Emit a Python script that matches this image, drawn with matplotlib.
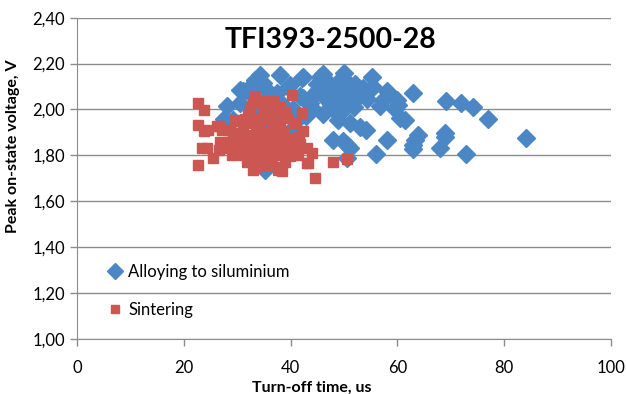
import matplotlib.pyplot as plt

plt.rcParams['font.family'] = ['Lato', 'DejaVu Sans']

# Alloying to siluminium: turn-off time (us), peak on-state voltage (V)
alloy_t = [84.0, 77.0, 74.1, 72.0, 69.1, 72.8, 68.9, 68.9, 68.0, 63.9,
           63.3, 62.9, 62.9, 62.9, 61.4, 60.5, 59.9, 60.1, 59.5, 58.0,
           57.3, 56.7, 58.1, 56.0, 55.2, 53.6, 54.3, 54.1, 50.0, 46.1,
           45.5, 42.3, 42.1, 38.0, 34.3, 33.6, 34.9, 33.3, 33.6, 35.5,
           31.8, 31.1, 30.5, 30.5, 28.0, 29.2, 33.0, 33.6, 35.2, 37.4,
           39.5, 39.9, 41.8, 37.4, 42.3, 44.9, 47.4, 49.3, 51.1, 52.4,
           53.6, 43.6, 46.8, 48.9, 51.1, 44.0, 46.0, 48.9, 51.1, 47.9,
           49.8, 50.5, 51.1, 50.5, 41.1, 40.5, 39.3, 47.0, 48.5, 50.5,
           52.0, 49.0, 50.0, 52.5, 45.0, 44.0, 47.5, 50.0, 51.8, 49.5,
           48.0, 37.0, 38.5, 36.0, 40.5, 42.8, 36.5, 55.5, 53.0, 27.5]
alloy_v = [1.875, 1.960, 2.009, 2.030, 2.038, 1.806, 1.898, 1.880, 1.833, 1.890,
           1.868, 1.846, 1.829, 2.073, 1.955, 1.964, 2.040, 2.020, 2.000, 2.079,
           2.042, 2.013, 1.865, 1.807, 2.141, 2.095, 2.047, 1.909, 2.160, 2.156,
           2.143, 2.143, 2.137, 2.151, 2.151, 2.115, 2.115, 2.130, 2.095, 2.086,
           2.086, 2.079, 2.086, 2.028, 2.013, 1.955, 2.000, 1.977, 1.737, 2.072,
           2.100, 2.108, 2.057, 2.035, 2.050, 2.079, 2.093, 2.079, 2.100, 2.071,
           2.079, 2.028, 2.042, 2.035, 2.042, 2.007, 1.981, 1.955, 1.942, 1.868,
           1.861, 1.846, 1.832, 1.790, 1.948, 1.919, 1.890, 2.120, 2.110, 2.120,
           2.110, 2.060, 2.080, 2.050, 2.110, 2.060, 2.060, 2.020, 2.010, 1.990,
           2.000, 1.980, 2.020, 2.060, 2.000, 1.970, 1.930, 2.100, 1.925, 1.960]

# Sintering
sinter_t = [22.7, 23.7, 22.7, 23.7, 24.6, 26.5, 27.1, 23.4, 24.3, 26.5,
            25.5, 22.7, 29.6, 33.6, 32.4, 40.2, 42.1, 42.4, 44.0, 43.3,
            48.0, 50.6, 44.6, 38.3, 33.3, 33.0, 34.6, 36.7, 37.1, 35.2,
            32.0, 39.3, 38.0, 29.9, 26.2, 28.7, 29.6, 31.5, 33.6, 35.5,
            37.1, 39.3, 40.5, 28.0, 29.3, 30.5, 31.8, 33.0, 34.3, 35.5,
            36.8, 38.0, 39.9, 41.1, 29.9, 31.1, 32.4, 34.3, 36.1, 38.0,
            39.9, 41.4, 31.8, 33.6, 35.5, 38.0, 43.0, 37.6, 33.0, 30.0,
            31.0, 32.5, 34.0, 35.0, 36.5, 37.5, 33.5, 34.8, 36.0, 37.0,
            38.5, 32.0, 30.8, 29.0, 28.5, 27.5, 26.8, 35.8, 34.0, 32.8,
            36.5, 39.0, 40.0, 41.8, 43.0, 38.5, 35.0, 36.2, 34.0, 33.0,
            31.5, 38.0, 39.0, 36.0, 40.8, 41.5]
sinter_v = [2.028, 1.999, 1.933, 1.904, 1.912, 1.926, 1.912, 1.832, 1.832, 1.824,
            1.788, 1.759, 1.955, 2.042, 2.000, 2.064, 1.984, 1.904, 1.810, 1.766,
            1.769, 1.784, 1.700, 1.730, 2.057, 2.030, 2.035, 2.035, 1.999, 1.985,
            1.977, 1.963, 1.942, 1.948, 1.926, 1.912, 1.898, 1.890, 1.904, 1.897,
            1.890, 1.875, 1.860, 1.840, 1.868, 1.854, 1.860, 1.846, 1.853, 1.860,
            1.846, 1.853, 1.839, 1.824, 1.817, 1.803, 1.795, 1.788, 1.795, 1.803,
            1.795, 1.803, 1.773, 1.751, 1.759, 1.751, 1.766, 1.737, 1.737, 1.880,
            1.920, 1.940, 1.930, 1.960, 1.950, 1.920, 1.870, 1.830, 1.820, 1.860,
            1.830, 1.830, 1.840, 1.800, 1.860, 1.830, 1.860, 1.790, 1.810, 1.810,
            1.770, 1.770, 1.810, 1.850, 1.830, 1.900, 2.000, 1.990, 1.960, 1.960,
            1.960, 2.010, 1.990, 2.020, 1.940, 1.880]

fig = plt.figure(figsize=(6.26, 3.94), dpi=100)
ax = fig.add_axes([0.123, 0.140, 0.853, 0.815])

ax.plot(alloy_t, alloy_v, linestyle='none', marker='D', markersize=9,
        color='#4A87C4', markeredgecolor='#4A87C4', label='Alloying to siluminium')
ax.plot(sinter_t, sinter_v, linestyle='none', marker='s', markersize=6.5,
        color='#CC5652', markeredgecolor='#CC5652', label='Sintering')

ax.set_xlim(0, 100)
ax.set_ylim(1.0, 2.4)
ax.set_xticks([0, 20, 40, 60, 80, 100])
ax.set_yticks([1.0, 1.2, 1.4, 1.6, 1.8, 2.0, 2.2, 2.4])
ax.set_yticklabels(['1,00', '1,20', '1,40', '1,60', '1,80', '2,00', '2,20', '2,40'])
ax.yaxis.grid(True, color='#8C8C8C', linewidth=1.0)
ax.set_axisbelow(True)

for s in ['top', 'right']:
    ax.spines[s].set_visible(False)
for s in ['left', 'bottom']:
    ax.spines[s].set_color('#8C8C8C')
ax.tick_params(axis='both', colors='#8C8C8C', labelcolor='black', labelsize=12,
               length=5, width=1)
ax.tick_params(axis='x', pad=10)

ax.set_xlabel('Turn-off time, us', fontsize=11.5, fontweight='bold')
ax.set_ylabel('Peak on-state voltage, V', fontsize=11.5, fontweight='bold')
ax.xaxis.set_label_coords(0.44, -0.132)
ax.yaxis.set_label_coords(-0.107, 0.6)

ax.text(0.475, 0.93, 'TFI393-2500-28', transform=ax.transAxes, ha='center',
        va='center', fontsize=20.5, fontweight='bold')

ax.legend(loc='upper left', bbox_to_anchor=(0.03, 0.28), frameon=False,
          fontsize=12, labelspacing=1.3, handlelength=0.8, handletextpad=0.4,
          markerscale=0.85)

fig.savefig('out.png', dpi=100)
